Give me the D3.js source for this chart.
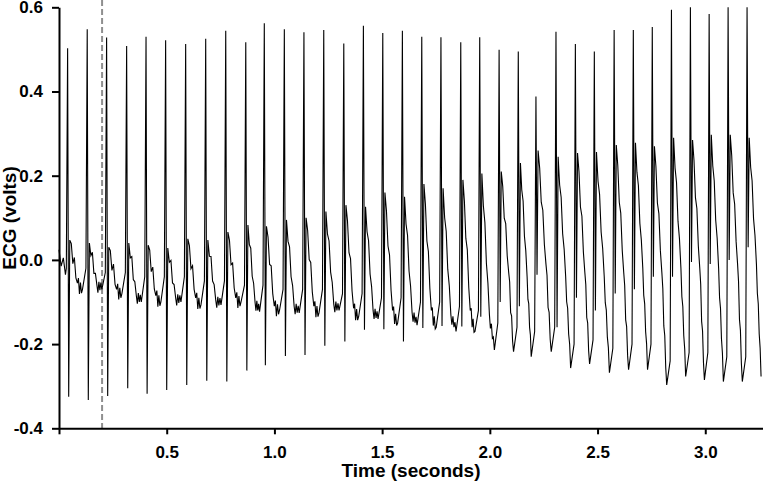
<!DOCTYPE html>
<html>
<head>
<meta charset="utf-8">
<script src="https://cdn.jsdelivr.net/npm/d3@7"></script>
<style>
  html, body { margin: 0; padding: 0; background: #fff; }
  svg { display: block; }
  text { font-family: "Liberation Sans", Arial, sans-serif; }
</style>
</head>
<body>
<svg id="chart" width="763" height="481"></svg>
<script>
// ---- data ----
const beatTime = [0.040, 0.131, 0.221, 0.314, 0.404, 0.495, 0.588, 0.681, 0.774, 0.867,
                  0.953, 1.046, 1.137, 1.229, 1.322, 1.413, 1.503, 1.594, 1.684, 1.773,
                  1.865, 1.953, 2.043, 2.132, 2.214, 2.307, 2.397, 2.485, 2.577, 2.666,
                  2.754, 2.843, 2.931, 3.018, 3.106, 3.194];
const rPeak = [0.503, 0.548, 0.528, 0.508, 0.530, 0.522, 0.513, 0.525, 0.544, 0.517,
               0.562, 0.548, 0.541, 0.546, 0.514, 0.556, 0.539, 0.544, 0.530, 0.529,
               0.517, 0.529, 0.499, 0.495, 0.388, 0.542, 0.513, 0.495, 0.546, 0.546,
               0.553, 0.594, 0.600, 0.584, 0.600, 0.600];
const sTrough = [-0.325, -0.333, -0.323, -0.305, -0.318, -0.309, -0.297, -0.287, -0.289, -0.263,
                 -0.250, -0.228, -0.226, -0.204, -0.194, -0.166, -0.165, -0.194, -0.162, -0.157,
                 -0.158, -0.135, -0.100, -0.110, -0.035, -0.160, -0.090, -0.120, -0.080, -0.070,
                 -0.040, -0.040, -0.005, -0.010, 0.000, 0.030];
const jPoint = [0.047, 0.040, 0.030, 0.040, 0.035, 0.028, 0.050, 0.047, 0.066, 0.083,
                0.080, 0.095, 0.100, 0.115, 0.130, 0.126, 0.160, 0.150, 0.180, 0.170,
                0.190, 0.205, 0.210, 0.230, 0.260, 0.245, 0.254, 0.256, 0.273, 0.278,
                0.270, 0.290, 0.285, 0.297, 0.297, 0.290];
const midVal = [-0.055, -0.060, -0.070, -0.085, -0.085, -0.090, -0.090, -0.095, -0.090, -0.100,
                -0.110, -0.110, -0.110, -0.105, -0.115, -0.120, -0.120, -0.125, -0.120, -0.130,
                -0.120, -0.130, -0.030, -0.040, -0.010, -0.040, -0.030, -0.040, -0.030, -0.020,
                -0.030, -0.020, -0.020, -0.020, -0.010, -0.010];
const trough = [-0.070, -0.070, -0.080, -0.100, -0.100, -0.100, -0.107, -0.107, -0.100, -0.123,
                -0.119, -0.126, -0.126, -0.120, -0.135, -0.140, -0.150, -0.155, -0.160, -0.170,
                -0.170, -0.214, -0.218, -0.230, -0.218, -0.257, -0.247, -0.268, -0.261, -0.261,
                -0.297, -0.277, -0.285, -0.289, -0.289, -0.277];
const preR = [-0.020, -0.020, -0.030, -0.030, -0.040, -0.040, -0.040, -0.050, -0.050, -0.060,
              -0.060, -0.070, -0.070, -0.070, -0.080, -0.080, -0.090, -0.090, -0.100, -0.100,
              -0.110, -0.120, -0.150, -0.160, -0.170, -0.160, -0.200, -0.190, -0.210, -0.200,
              -0.200, -0.240, -0.220, -0.220, -0.230, -0.230];
const leadTime = [0.000, 0.010, 0.020, 0.030];
const leadVal = [0.024, -0.015, 0.005, -0.035];
const ripple = [0.012, -0.015, 0.020, -0.008, 0.015, -0.020, 0.010, -0.012,
                -0.010, 0.018, -0.012, 0.008, -0.016, 0.012, -0.006, 0.014];
const endTime = 3.259;
const markerTime = 0.2;
const xTicks = [0, 0.5, 1.0, 1.5, 2.0, 2.5, 3.0];
const yTicks = [-0.4, -0.2, 0.0, 0.2, 0.4, 0.6];
const xLabel = "Time (seconds)";
const yLabel = "ECG (volts)";

// ---- layout ----
const svg = d3.select("#chart");
const x = d3.scaleLinear().domain([0, 3.268]).range([59, 763]);
const y = d3.scaleLinear().domain([-0.4, 0.6]).range([428.3, 7.3]);

// ---- build trace from beat values ----
const pts = [];
leadTime.forEach((t, i) => pts.push([t, leadVal[i]]));
const n = beatTime.length;
for (let i = 0; i < n; i++) {
  const t0 = beatTime[i];
  const t1 = i < n - 1 ? beatTime[i + 1] : endTime + 0.022;
  pts.push([t0 - 0.006, preR[i]]);
  pts.push([t0, rPeak[i]]);
  pts.push([t0 + 0.005, sTrough[i]]);
  const tJ = t0 + 0.010;
  pts.push([tJ, jPoint[i]]);
  const tm = t0 + (t1 - t0) / 2;
  const tq = t1 - 0.022;
  const off = (i % 2) * 8;
  for (let k = 1; k <= 4; k++) {
    pts.push([tJ + k * (tm - tJ) / 5, jPoint[i] + (midVal[i] - jPoint[i]) * k / 5 + ripple[off + k - 1]]);
  }
  pts.push([tm, midVal[i]]);
  for (let k = 1; k <= 4; k++) {
    pts.push([tm + k * (tq - tm) / 5, midVal[i] + (trough[i] - midVal[i]) * k / 5 + ripple[off + 3 + k]]);
  }
  pts.push([tq, trough[i]]);
}

// marker line
svg.append("line")
  .attr("x1", x(markerTime)).attr("x2", x(markerTime))
  .attr("y1", 0).attr("y2", y(-0.4))
  .attr("stroke", "#8f8f8f").attr("stroke-width", 2)
  .attr("stroke-dasharray", "6,3");

// trace
svg.append("path")
  .datum(pts)
  .attr("fill", "none")
  .attr("stroke", "#000")
  .attr("stroke-width", 1.1)
  .attr("d", d3.line().x(d => x(d[0])).y(d => y(d[1])));

// axes
const yAxis = svg.append("g")
  .attr("transform", `translate(${x(0)},0)`)
  .call(d3.axisLeft(y).tickValues(yTicks).tickSize(7).tickSizeOuter(0).tickPadding(9)
        .tickFormat(d3.format(".1f")));
const xAxis = svg.append("g")
  .attr("transform", `translate(0,${y(-0.4)})`)
  .call(d3.axisBottom(x).tickValues(xTicks).tickSize(6).tickSizeOuter(0).tickPadding(12)
        .tickFormat(d => d === 0 ? "" : d3.format(".1f")(d)));
[yAxis, xAxis].forEach(g => {
  g.select(".domain").attr("stroke", "#000").attr("stroke-width", 2);
  g.selectAll(".tick line").attr("stroke", "#000").attr("stroke-width", 2);
  g.selectAll(".tick text").attr("fill", "#000")
    .style("font-family", '"Liberation Sans", Arial, sans-serif')
    .style("font-size", "17px").style("font-weight", "bold");
});
yAxis.selectAll(".tick text").text(d => d3.format(".1f")(d).replace("−", "-"));

// titles
svg.append("text")
  .attr("x", 411).attr("y", 477)
  .attr("text-anchor", "middle")
  .style("font-size", "19px").style("font-weight", "bold")
  .text(xLabel);
svg.append("text")
  .attr("transform", "translate(16,218) rotate(-90)")
  .attr("text-anchor", "middle")
  .style("font-size", "19px").style("font-weight", "bold")
  .text(yLabel);
</script>
</body>
</html>
